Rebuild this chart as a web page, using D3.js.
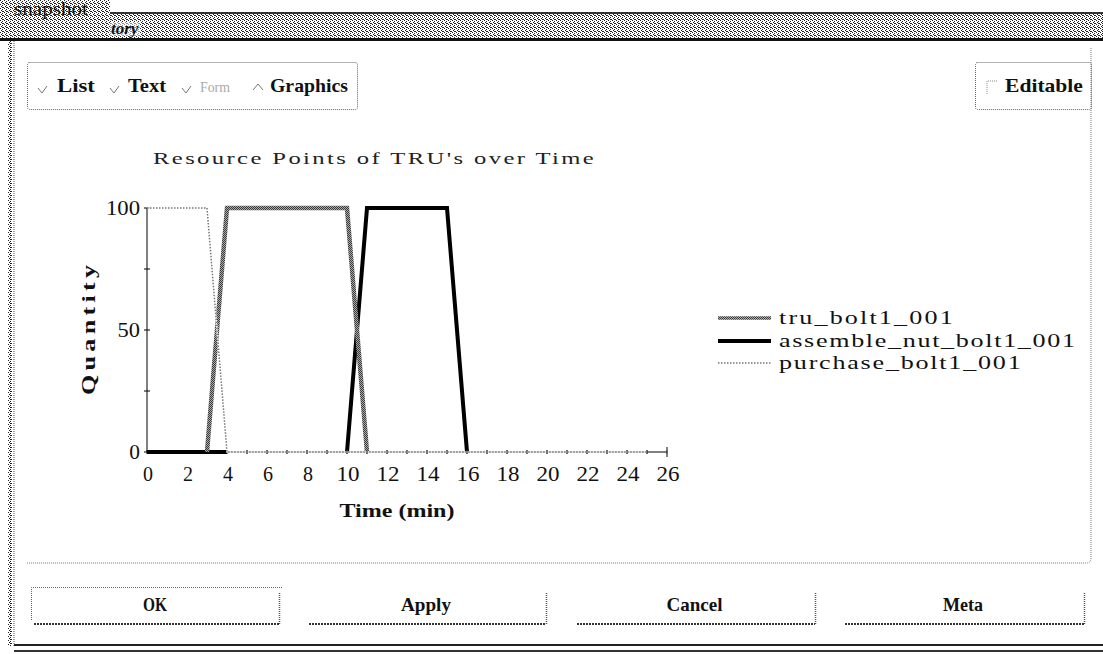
<!DOCTYPE html>
<html>
<head>
<meta charset="utf-8">
<script src="https://cdn.jsdelivr.net/npm/d3@7"></script>
<style>
  body { margin: 0; background: #fff; }
  svg { display: block; }
  .sf { font-family: "Liberation Serif", "DejaVu Serif", serif; }
</style>
</head>
<body>
<svg id="chart" width="1103" height="654"></svg>
<script>
// ---------------- DATA ----------------
const chartTitle = "Resource Points of TRU's over Time";
const xLabel = "Time (min)";
const yLabel = "Quantity";
const xTickValues = [0, 2, 4, 6, 8, 10, 12, 14, 16, 18, 20, 22, 24, 26];
const yTickLabels = [0, 50, 100];
const yMinorTicks = [25, 75];
const seriesNames = ["tru_bolt1_001", "assemble_nut_bolt1_001", "purchase_bolt1_001"];

// time / value pairs (null = gap)
const truTime  = [3, 4, 10, 11];
const truQty   = [0, 100, 100, 0];
const asmTime  = [0, 4, null, 10, 11, 15, 16];
const asmQty   = [0, 0, null, 0, 100, 100, 0];
const purTime  = [0, 3, 4, 25];
const purQty   = [100, 100, 0, 0];

const buttons = ["OK", "Apply", "Cancel", "Meta"];
const viewModes = ["List", "Text", "Form", "Graphics"];

// ---------------- DRAW ----------------
const svg = d3.select("#chart");
const defs = svg.append("defs");

// helper: typewriter-like text, widened (scale + letter-spacing) to a measured width
function mtext(g, str, x, y, width, size, opts = {}) {
  const t = g.append("text").attr("class", "sf").attr("x", 0).attr("y", 0)
    .attr("font-size", size).attr("fill", opts.fill || "#111")
    .attr("font-weight", opts.bold ? "bold" : "normal")
    .text(str);
  const nat = t.node().getComputedTextLength() || width;
  const n = str.length;
  const sx = Math.min(opts.maxScale || 1.45, width / nat);
  const ls = n > 1 ? Math.max(0, (width / sx - nat) / (n - 1)) : 0;
  if (ls > 0) t.style("letter-spacing", ls + "px");
  const left = opts.anchor === "middle" ? x - width / 2 : opts.anchor === "end" ? x - width : x;
  if (opts.rotate) {
    t.attr("transform", `translate(${x},${y}) rotate(${opts.rotate}) translate(${-width / 2},0) scale(${sx},1)`);
  } else {
    t.attr("transform", `translate(${left},${y}) scale(${sx},1)`);
  }
  return t;
}

// dither pattern for title band
const dp = defs.append("pattern").attr("id", "dither").attr("width", 4).attr("height", 4)
  .attr("patternUnits", "userSpaceOnUse");
dp.append("rect").attr("width", 4).attr("height", 4).attr("fill", "#fff");
[[0,0],[2,1],[1,2],[3,3],[2,3]].forEach(([x,y]) =>
  dp.append("rect").attr("x", x).attr("y", y).attr("width", 1).attr("height", 1).attr("fill", "#222"));

// checker pattern for tru line
const cp = defs.append("pattern").attr("id", "checker").attr("width", 2).attr("height", 2)
  .attr("patternUnits", "userSpaceOnUse");
cp.append("rect").attr("width", 2).attr("height", 2).attr("fill", "#3a3a3a");
cp.append("rect").attr("x", 1).attr("y", 0).attr("width", 1).attr("height", 1).attr("fill", "#a8a8a8");
cp.append("rect").attr("x", 0).attr("y", 1).attr("width", 1).attr("height", 1).attr("fill", "#a8a8a8");

// ---- window chrome ----
svg.append("rect").attr("x", 0).attr("y", 0).attr("width", 110).attr("height", 14).attr("fill", "url(#dither)");
svg.append("rect").attr("x", 110).attr("y", 12).attr("width", 993).attr("height", 2).attr("fill", "#333");
svg.append("rect").attr("x", 0).attr("y", 14).attr("width", 1103).attr("height", 24).attr("fill", "url(#dither)");
svg.append("rect").attr("x", 0).attr("y", 38).attr("width", 1103).attr("height", 3).attr("fill", "#111");
mtext(svg, "snapshot", 14, 15, 74, 18, {});
svg.append("rect").attr("x", 110).attr("y", 22).attr("width", 30).attr("height", 14).attr("fill", "#fff").attr("opacity", 0.5);
svg.append("text").attr("class", "sf").attr("x", 111).attr("y", 34)
  .attr("font-style", "italic").attr("font-weight", "bold").attr("font-size", 17).attr("fill", "#111").text("tory");
// left frame
svg.append("rect").attr("x", 8).attr("y", 41).attr("width", 4).attr("height", 605).attr("fill", "url(#dither)");
svg.append("line").attr("x1", 14).attr("x2", 14).attr("y1", 41).attr("y2", 646)
  .attr("stroke", "#555").attr("stroke-dasharray", "1,1");
// bottom frame
svg.append("rect").attr("x", 14).attr("y", 644).attr("width", 1089).attr("height", 2).attr("fill", "#222");
svg.append("rect").attr("x", 14).attr("y", 650).attr("width", 1089).attr("height", 2).attr("fill", "#333");

// main panel dotted border
svg.append("path")
  .attr("d", "M1091,48 L1091,558 Q1091,563 1086,563 L26,563")
  .attr("fill", "none").attr("stroke", "#777").attr("stroke-dasharray", "1,1");

// view mode box
svg.append("rect").attr("x", 27.5).attr("y", 62.5).attr("width", 330).attr("height", 47).attr("rx", 2)
  .attr("fill", "none").attr("stroke", "#666").attr("stroke-dasharray", "1,1");
const modeMark = [38, 110, 182, 253];
const modeText = [57, 128, 200, 270];
const modeWidth = [38, 38, 30, 78];
viewModes.forEach((m, i) => {
  const mx = modeMark[i];
  if (i < 3) {
    svg.append("path").attr("d", `M${mx},88 L${mx + 4},93 L${mx + 9},86`).attr("fill", "none").attr("stroke", "#777");
  } else {
    svg.append("path").attr("d", `M${mx},90 L${mx + 5},84 L${mx + 10},90`).attr("fill", "none").attr("stroke", "#777");
  }
  mtext(svg, m, modeText[i], 92, modeWidth[i], i === 2 ? 15 : 18,
    { bold: i !== 2, fill: i === 2 ? "#aaa" : "#111" });
});
// editable box
svg.append("rect").attr("x", 975.5).attr("y", 62.5).attr("width", 116).attr("height", 47).attr("rx", 2)
  .attr("fill", "none").attr("stroke", "#666").attr("stroke-dasharray", "1,1");
svg.append("path").attr("d", "M987,94 L987,81 L998,81").attr("fill", "none").attr("stroke", "#888").attr("stroke-dasharray", "1,1");
mtext(svg, "Editable", 1005, 92, 78, 18, { bold: true });

// ---- chart ----
const x = d3.scaleLinear().domain([0, 26]).range([147, 667]);
const y = d3.scaleLinear().domain([0, 100]).range([452, 208]);

mtext(svg, chartTitle, 153, 164, 441, 17, { fill: "#222" });

// x axis
const xAxis = svg.append("g").attr("transform", `translate(0,${y(0)})`);
xAxis.append("line").attr("x1", x(0)).attr("x2", x(26)).attr("stroke", "#000");
const minor = d3.range(0, 27);
xAxis.selectAll("line.tk").data(minor).join("line").attr("class", "tk")
  .attr("x1", d => x(d)).attr("x2", d => x(d))
  .attr("y1", d => d === 26 ? -5 : -2).attr("y2", d => d === 26 ? 5 : 2)
  .attr("stroke", "#000");
xTickValues.forEach(d => {
  const s = String(d);
  mtext(xAxis, s, x(d) + 1, 29, s.length === 1 ? 10 : 23, 20, { anchor: "middle" });
});

// y axis
const yAxis = svg.append("g");
yAxis.append("line").attr("x1", x(0)).attr("x2", x(0)).attr("y1", y(0)).attr("y2", y(100)).attr("stroke", "#000");
yAxis.selectAll("line.tk").data(yTickLabels.concat(yMinorTicks)).join("line").attr("class", "tk")
  .attr("x1", x(0) - 3).attr("x2", x(0) + 3)
  .attr("y1", d => y(d)).attr("y2", d => y(d)).attr("stroke", "#000");
yTickLabels.forEach(d => {
  const s = String(d);
  mtext(yAxis, s, x(0) - 7, y(d) + 7, s.length * 11.7 - 1, 20, { anchor: "end" });
});

mtext(svg, xLabel, 397, 517, 115, 19, { anchor: "middle", bold: true });
mtext(svg, yLabel, 95, 330, 130, 18, { bold: true, rotate: -90 });

// lines
function pts(ts, vs) { return ts.map((t, i) => ({ t, v: vs[i] })); }
const line = d3.line().defined(d => d.t !== null && d.v !== null).x(d => x(d.t)).y(d => y(d.v));

const styles = [
  { stroke: "url(#checker)", width: 4.5, dash: null },
  { stroke: "#000", width: 4, dash: null },
  { stroke: "#777", width: 1.5, dash: "1.5,1.5" }
];
const seriesData = [pts(truTime, truQty), pts(asmTime, asmQty), pts(purTime, purQty)];
const drawOrder = [1, 0, 2];
drawOrder.forEach(i => {
  if (i === 2) {
    svg.append("path").attr("d", line(seriesData[i])).attr("fill", "none")
      .attr("stroke", "#fff").attr("stroke-width", 1.5);
  }
  svg.append("path").attr("d", line(seriesData[i])).attr("fill", "none")
    .attr("stroke", styles[i].stroke).attr("stroke-width", styles[i].width)
    .attr("stroke-dasharray", styles[i].dash).attr("stroke-linejoin", "miter");
});
// re-draw minor ticks over purchase line
svg.append("g").attr("transform", `translate(0,${y(0)})`).selectAll("line").data(minor.filter(d => d > 4)).join("line")
  .attr("x1", d => x(d)).attr("x2", d => x(d)).attr("y1", -2).attr("y2", 2).attr("stroke", "#555");

// legend
const legY = [318, 341, 363];
const leg = svg.append("g");
seriesNames.forEach((n, i) => {
  if (i === 2) {
    leg.append("line").attr("x1", 718).attr("x2", 771).attr("y1", legY[i]).attr("y2", legY[i])
      .attr("stroke", "#fff").attr("stroke-width", 1.5);
  }
  leg.append("line").attr("x1", 718).attr("x2", 771).attr("y1", legY[i]).attr("y2", legY[i])
    .attr("stroke", styles[i].stroke).attr("stroke-width", i === 0 ? 3.5 : styles[i].width)
    .attr("stroke-dasharray", styles[i].dash);
  mtext(leg, n, 779, legY[i] + 6, n.length * 13.6 - 3, 18, {});
});

// ---- buttons ----
const btnX = [[31, 279], [306, 546], [574, 815], [842, 1084]];
const btnW = [24, 50, 56, 40];
buttons.forEach((b, i) => {
  const [x0, x1] = btnX[i];
  const g = svg.append("g");
  if (i === 0) {
    g.append("path").attr("d", `M${x0 + 0.5},620 L${x0 + 0.5},587.5 L${x1 + 4},587.5`)
      .attr("fill", "none").attr("stroke", "#666").attr("stroke-dasharray", "1,1");
  }
  g.append("line").attr("x1", x1 + 0.5).attr("x2", x1 + 0.5).attr("y1", 593).attr("y2", 625)
    .attr("stroke", "#555").attr("stroke-dasharray", "1,1").attr("stroke-width", 1.5);
  g.append("line").attr("x1", x0 + 3).attr("x2", x1).attr("y1", 624).attr("y2", 624)
    .attr("stroke", "#333").attr("stroke-width", 2).attr("stroke-dasharray", "2,1");
  mtext(g, b, (x0 + x1) / 2, 611, btnW[i], 18, { anchor: "middle", bold: true });
});
</script>
</body>
</html>
